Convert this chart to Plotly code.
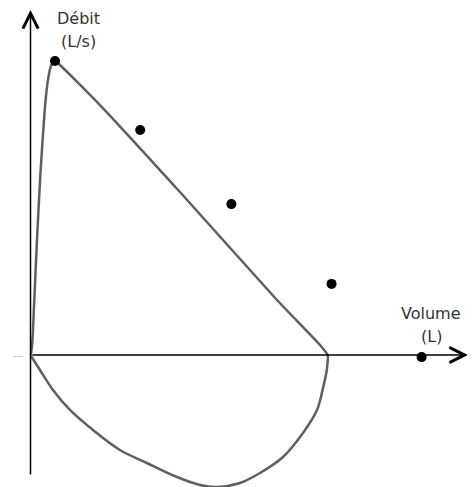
import plotly.graph_objects as go


# courbe debit-volume (volume en L, debit en L/s)
expi_volume = [0, 0.025, 0.05, 0.1, 0.158, 0.233, 0.283, 0.333, 0.4,
	0.483, 1.15, 2.483, 4.1, 4.817, 4.95]
expi_debit = [0, 0.5, 1.6, 3.833, 6.067, 8.267, 9.167, 9.633, 9.8,
	9.667, 8.333, 5.433, 1.833, 0.333, 0]

inspi_volume = [0, 0.15, 0.367, 0.65, 1.033, 1.483, 1.933, 2.433, 2.817,
	3.1, 3.483, 3.817, 4.2, 4.533, 4.767, 4.867, 4.93, 4.95]
inspi_debit = [-0.033, -0.5, -1.167, -1.833, -2.5, -3.167, -3.6, -4.067, -4.333,
	-4.4, -4.267, -3.933, -3.4, -2.6, -1.833, -1.1, -0.5, 0]

# points theoriques
pts_volume = [0.4, 1.82, 3.34, 5.01, 6.51]
pts_debit = [9.8, 7.5, 5.03, 2.37, -0.07]


if __name__ == "__main__":

	fig = go.Figure()

	fig.add_trace(go.Scatter(x=expi_volume, y=expi_debit, mode='lines',
		line={'width': 2.5, 'color': '#5f5f5f', 'shape': 'spline', 'smoothing': 0.5}))

	fig.add_trace(go.Scatter(x=inspi_volume, y=inspi_debit, mode='lines',
		line={'width': 2.5, 'color': '#5f5f5f', 'shape': 'spline', 'smoothing': 1}))

	fig.add_trace(go.Scatter(x=pts_volume, y=pts_debit, mode='markers',
		marker={'size': 10, 'color': 'black'}))

	font = {'family': 'DejaVu Sans', 'size': 16, 'color': '#333333'}

	# axes avec fleches
	fig.add_annotation(x=7.283, y=0, ax=0, ay=0, axref='x', ayref='y',
		text='', showarrow=True, arrowhead=5, arrowsize=2, arrowwidth=1.5, arrowcolor='black')
	fig.add_annotation(x=-0.008, y=11.5, ax=-0.008, ay=-4.033, axref='x', ayref='y',
		text='', showarrow=True, arrowhead=5, arrowsize=2, arrowwidth=1.5, arrowcolor='black')

	fig.add_annotation(x=-0.22, y=0, text='—', showarrow=False,
		font={'family': 'DejaVu Sans', 'size': 10, 'color': '#c8c8c8'})

	fig.add_annotation(x=0.8, y=11.233, text='Débit', showarrow=False, font=font)
	fig.add_annotation(x=0.8, y=10.467, text='(L/s)', showarrow=False, font=font)
	fig.add_annotation(x=6.667, y=1.4, text='Volume', showarrow=False, font=font)
	fig.add_annotation(x=6.667, y=0.633, text='(L)', showarrow=False, font=font)

	# la page ajoute une marge de 8 px, d'ou la taille reduite
	fig.update_layout(
		width=467,
		height=479,
		margin={'l': 0, 'r': 0, 't': 0, 'b': 0},
		showlegend=False,
		paper_bgcolor='white',
		plot_bgcolor='white',
		xaxis={'range': [-0.383, 7.4], 'visible': False},
		yaxis={'range': [-4.4, 11.567], 'visible': False},
	)

	fig.write_html("out.html")
